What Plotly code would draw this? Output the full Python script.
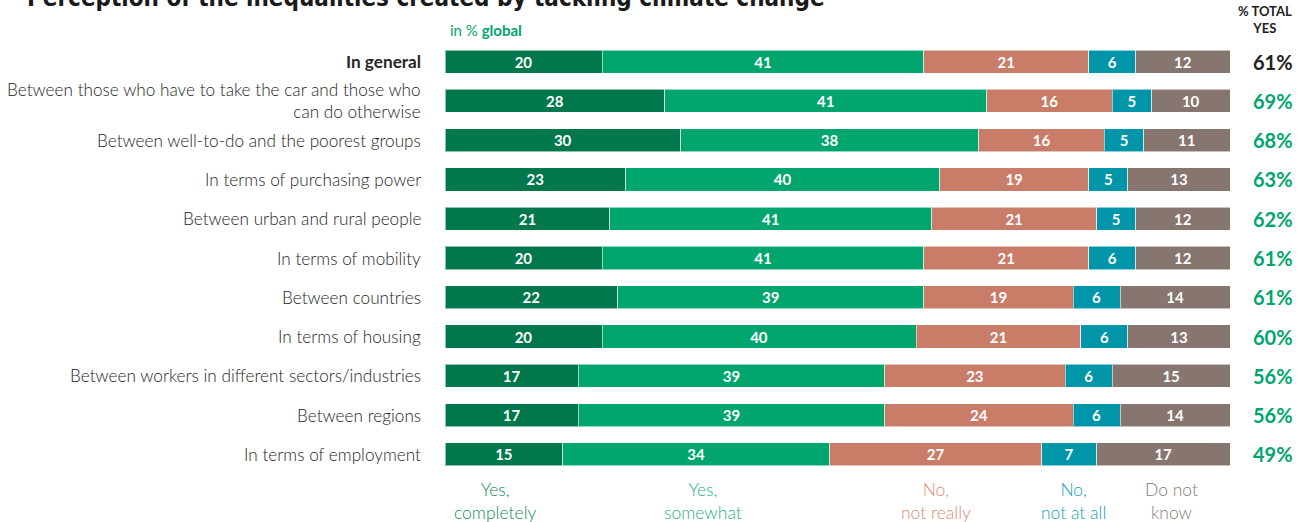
import plotly.graph_objects as go

categories = [
    "<b>In general</b>",
    "Between those who have to take the car and those who<br>can do otherwise",
    "Between well-to-do and the poorest groups",
    "In terms of purchasing power",
    "Between urban and rural people",
    "In terms of mobility",
    "Between countries",
    "In terms of housing",
    "Between workers in different sectors/industries",
    "Between regions",
    "In terms of employment",
]
yes_completely = [20, 28, 30, 23, 21, 20, 22, 20, 17, 17, 15]
yes_somewhat = [41, 41, 38, 40, 41, 41, 39, 40, 39, 39, 34]
no_not_really = [21, 16, 16, 19, 21, 21, 19, 21, 23, 24, 27]
no_not_at_all = [6, 5, 5, 5, 5, 6, 6, 6, 6, 6, 7]
do_not_know = [12, 10, 11, 13, 12, 12, 14, 13, 15, 14, 17]
total_yes = [61, 69, 68, 63, 62, 61, 61, 60, 56, 56, 49]

series_names = ["Yes,<br>completely", "Yes,<br>somewhat", "No,<br>not really", "No,<br>not at all", "Do not<br>know"]
series_values = [yes_completely, yes_somewhat, no_not_really, no_not_at_all, do_not_know]
bar_colors = ["#00784c", "#00a66e", "#c97c68", "#0095a8", "#877570"]
legend_colors = ["#148a58", "#1fb07e", "#d98a76", "#12a0b4", "#8a7c77"]
legend_x = [6.4, 32.9, 62.5, 80.1, 92.6]

FONT = "Lato"

fig = go.Figure()
for name, vals, col in zip(series_names, series_values, bar_colors):
    fig.add_trace(go.Bar(
        y=categories, x=vals, orientation="h", name=name,
        marker=dict(color=col, line=dict(color="rgba(255,255,255,0.55)", width=1)),
        text=[str(v) for v in vals], textposition="inside", insidetextanchor="middle",
        textangle=0, constraintext="none",
        textfont=dict(family=FONT, size=15, color="white", weight="bold"),
        width=0.59, hoverinfo="skip", showlegend=False,
    ))

annotations = []
# category labels
for c in categories:
    annotations.append(dict(
        x=0, xref="paper", xshift=-22, y=c, yref="y", text=c, showarrow=False,
        xanchor="right", yanchor="middle", align="right",
        font=dict(family=FONT, size=17.2, color="#262626", weight=300),
    ))
# total yes
for i, (c, t) in enumerate(zip(categories, total_yes)):
    annotations.append(dict(
        x=1, xref="paper", xshift=43, y=c, yref="y", text=f"<b>{t}%</b>", showarrow=False,
        xanchor="center", yanchor="middle",
        font=dict(family=FONT, size=20, color="#222222" if i == 0 else "#00a66e"),
    ))
# legend labels below
for name, lx, col in zip(series_names, legend_x, legend_colors):
    annotations.append(dict(
        x=lx, xref="x", y=0, yref="paper", yshift=-3, text=name, showarrow=False,
        xanchor="center", yanchor="top", align="center",
        font=dict(family=FONT, size=17.5, color=col, weight=300),
    ))
# header
annotations.append(dict(
    x=1, xref="paper", xshift=35, y=1, yref="paper", yshift=4, text="<b>% TOTAL<br>YES</b>",
    showarrow=False, xanchor="center", yanchor="bottom", align="center",
    font=dict(family=FONT, size=13, color="#222222"),
))
annotations.append(dict(
    x=0, xref="paper", xshift=3, y=1, yref="paper", yshift=1, text="in % <b>global</b>",
    showarrow=False, xanchor="left", yanchor="bottom",
    font=dict(family=FONT, size=15, color="#00a66e"),
))
annotations.append(dict(
    x=0, xref="paper", xshift=-420, y=1, yref="paper", yshift=28,
    text="<b>Perception of the inequalities created by tackling climate change</b>",
    showarrow=False, xanchor="left", yanchor="bottom",
    font=dict(family="DejaVu Sans Condensed, Roboto", size=24, color="#1a1a1a"),
))

fig.update_layout(
    barmode="stack",
    width=1305, height=522,
    margin=dict(l=445, r=75, t=42, b=48),
    paper_bgcolor="white", plot_bgcolor="white",
    xaxis=dict(range=[0, 100], visible=False, fixedrange=True),
    yaxis=dict(autorange="reversed", showticklabels=False, showgrid=False, zeroline=False),
    annotations=annotations,
    uniformtext=dict(mode=False),
)

fig.write_html("out.html")
